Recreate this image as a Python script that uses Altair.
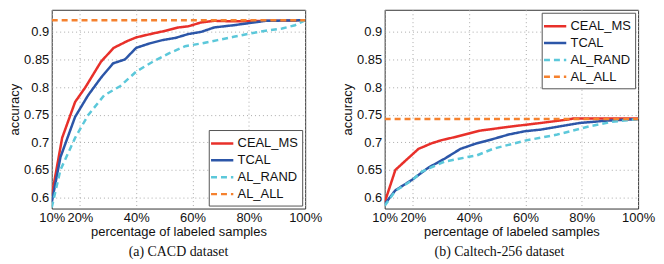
import altair as alt
import pandas as pd

series_order = ["CEAL_MS", "TCAL", "AL_RAND", "AL_ALL"]
series_colors = ["#e8302a", "#2c56a8", "#5cc8da", "#f5812e"]
series_dash = [[1, 0], [1, 0], [6, 4], [6, 4]]

x_ticks = [10, 20, 40, 60, 80, 100]
y_ticks = [0.6, 0.65, 0.7, 0.75, 0.8, 0.85, 0.9]

# (a) CACD
a_ceal_x = [10, 13.7, 18.3, 22, 27.5, 32, 36.7, 40, 45.9, 50.5, 55, 58.5, 63, 67.7, 74.6, 86, 100]
a_ceal_y = [0.603, 0.708, 0.773, 0.800, 0.846, 0.871, 0.883, 0.890, 0.897, 0.902, 0.908, 0.910, 0.917, 0.920, 0.919, 0.920, 0.921]
a_tcal_x = [10, 13.1, 18.3, 22.9, 27.5, 31.8, 36, 40, 44.7, 49.3, 53.9, 58.5, 63.1, 67.7, 74.6, 80.3, 86, 100]
a_tcal_y = [0.591, 0.673, 0.746, 0.785, 0.817, 0.843, 0.850, 0.871, 0.879, 0.885, 0.889, 0.896, 0.900, 0.908, 0.912, 0.916, 0.920, 0.921]
a_rand_x = [10, 13.1, 18.3, 22.9, 28.6, 34.4, 40, 45.9, 51.6, 57.4, 63.1, 68.9, 74.6, 80.3, 86, 91.8, 96.4, 100]
a_rand_y = [0.582, 0.650, 0.708, 0.749, 0.785, 0.802, 0.828, 0.846, 0.861, 0.874, 0.879, 0.885, 0.891, 0.897, 0.902, 0.906, 0.912, 0.921]
a_all_x = [10, 100]
a_all_y = [0.921, 0.921]

# (b) Caltech-256
b_ceal_x = [10, 13.8, 22, 26.6, 30.3, 34.6, 43.8, 54, 65.5, 74.7, 77, 100]
b_ceal_y = [0.591, 0.650, 0.688, 0.698, 0.704, 0.709, 0.721, 0.728, 0.735, 0.741, 0.743, 0.743]
b_tcal_x = [10, 13.8, 19.7, 25.5, 31.2, 36.9, 42.6, 47.2, 54, 59.8, 65.5, 72.4, 79.3, 88.4, 100]
b_tcal_y = [0.588, 0.613, 0.632, 0.654, 0.670, 0.688, 0.698, 0.704, 0.714, 0.720, 0.723, 0.729, 0.735, 0.739, 0.742]
b_rand_x = [10, 13.8, 19.7, 23.2, 31.2, 39.2, 42.6, 48.4, 59.8, 71.3, 82.7, 90.7, 100]
b_rand_y = [0.585, 0.612, 0.631, 0.647, 0.665, 0.673, 0.676, 0.688, 0.703, 0.714, 0.729, 0.737, 0.742]
b_all_x = [10, 100]
b_all_y = [0.742, 0.742]


def frame(xs, ys, name):
    return pd.DataFrame({"p": xs, "acc": ys, "series": name})


df_a = pd.concat([
    frame(a_ceal_x, a_ceal_y, "CEAL_MS"),
    frame(a_tcal_x, a_tcal_y, "TCAL"),
    frame(a_rand_x, a_rand_y, "AL_RAND"),
    frame(a_all_x, a_all_y, "AL_ALL"),
])
df_b = pd.concat([
    frame(b_ceal_x, b_ceal_y, "CEAL_MS"),
    frame(b_tcal_x, b_tcal_y, "TCAL"),
    frame(b_rand_x, b_rand_y, "AL_RAND"),
    frame(b_all_x, b_all_y, "AL_ALL"),
])

FONT = "Liberation Sans"


def panel(df, caption, legend_orient, dx):
    legend = alt.Legend(
        title=None, orient=legend_orient, symbolType="M-1.4,0H1.4", symbolSize=256,
        symbolStrokeWidth=2.5, labelFont=FONT, labelFontSize=13, labelColor="#111",
        fillColor="white", strokeColor="#555", padding=4, rowPadding=0,
        offset=3, labelOffset=6,
    )
    return alt.Chart(df).mark_line(strokeWidth=2.5, clip=True).encode(
        x=alt.X("p:Q", scale=alt.Scale(domain=[10, 100], nice=False),
                axis=alt.Axis(values=x_ticks, labelExpr="datum.value + '%'",
                              title="percentage of labeled samples")),
        y=alt.Y("acc:Q", scale=alt.Scale(domain=[0.58, 0.94], nice=False, zero=False),
                axis=alt.Axis(values=y_ticks, format=".2~f", title="accuracy")),
        color=alt.Color("series:N", scale=alt.Scale(domain=series_order, range=series_colors),
                        sort=series_order, legend=legend),
        strokeDash=alt.StrokeDash("series:N", scale=alt.Scale(domain=series_order, range=series_dash),
                                  sort=series_order, legend=legend),
        order=alt.Order("p:Q"),
    ).properties(
        width=255, height=200,
        title=alt.TitleParams(caption, orient="bottom", font="Liberation Serif", fontSize=14,
                              fontWeight="normal", color="#111", frame="group", anchor="middle",
                              offset=7, dx=dx),
    )


left = panel(df_a, "(a) CACD dataset", "bottom-right", 0)
right = panel(df_b, "(b) Caltech-256 dataset", "top-right", -12)

chart = alt.hconcat(left, right, spacing=18).properties(padding=0).configure_view(
    stroke="#333", strokeWidth=1
).configure_axis(
    grid=True, gridColor="#aaa", gridDash=[1, 3], gridWidth=1,
    domain=False, ticks=False,
    labelFont=FONT, labelFontSize=13, labelColor="#111", labelPadding=3,
    titleFont=FONT, titleFontSize=13, titleFontWeight="normal", titleColor="#111",
    labelOverlap=False, labelFlush=False,
).configure_axisY(titlePadding=2).configure_axisX(titlePadding=1)

chart.save("out.html", embed_options={"renderer": "svg", "actions": False})
